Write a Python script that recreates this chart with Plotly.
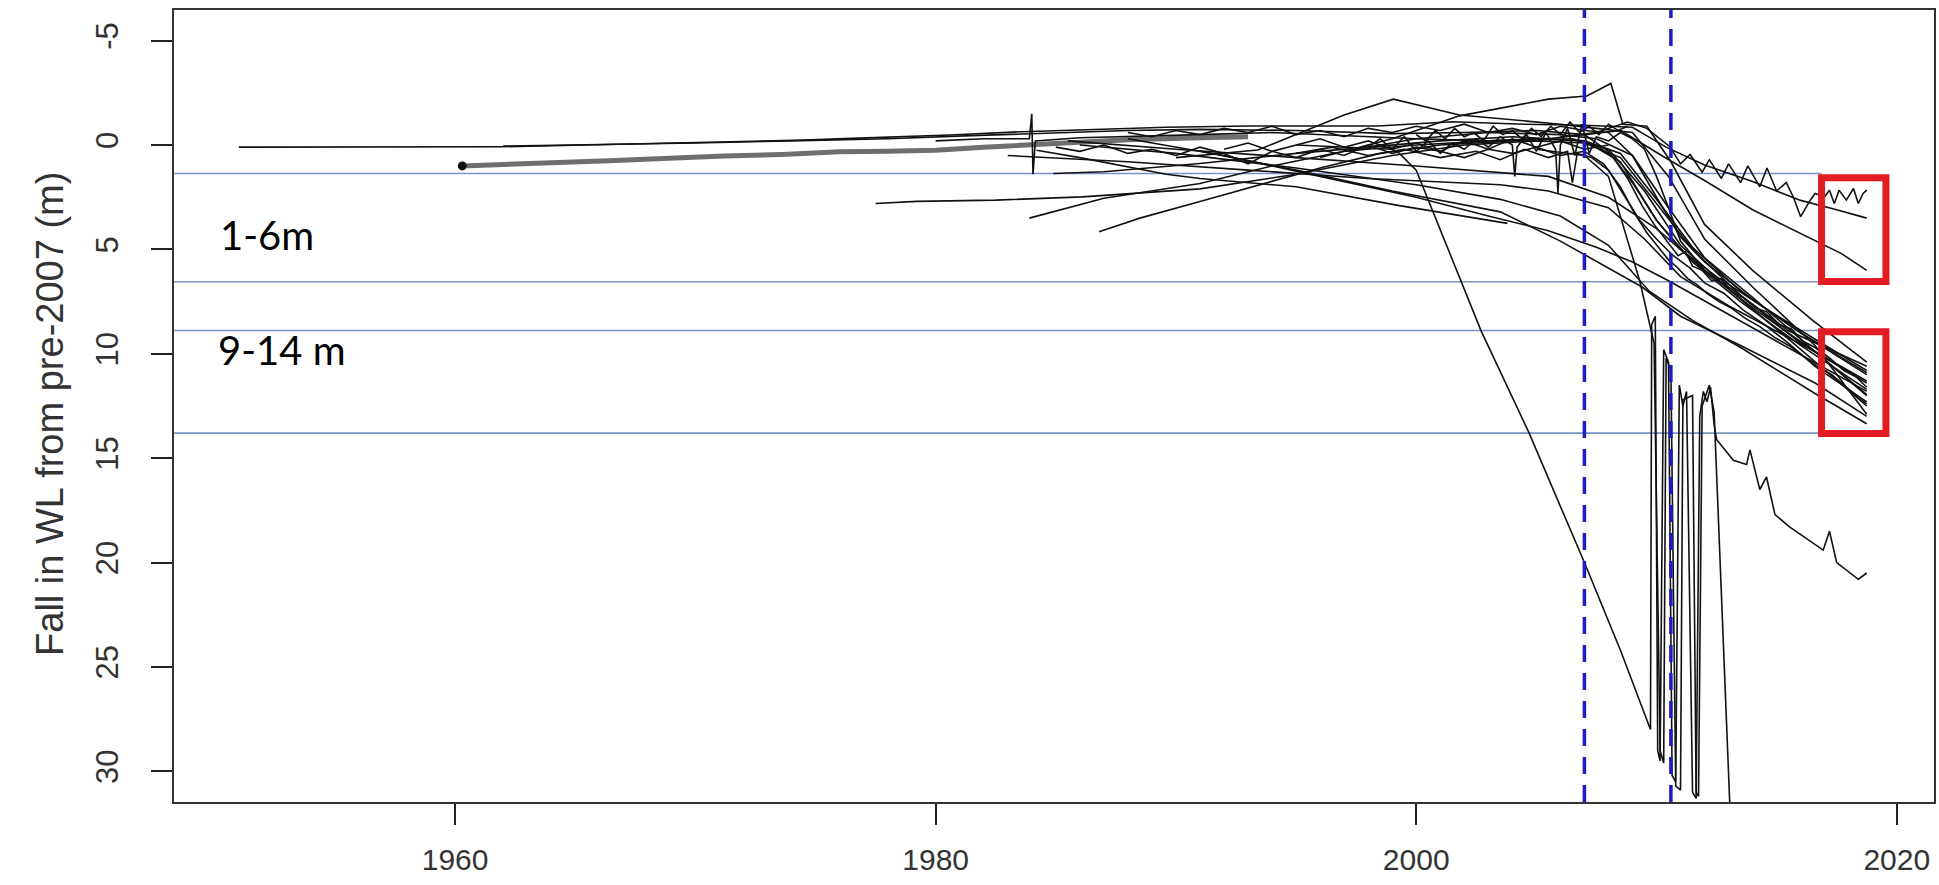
import plotly.graph_objects as go

# ---------------- data ----------------
x_ticks = [1960, 1980, 2000, 2020]
y_ticks = [-5, 0, 5, 10, 15, 20, 25, 30]
band_lines = [1.36, 6.55, 8.88, 13.8]          # thin blue reference lines
policy_years = [2007.0, 2010.6]                 # dashed blue verticals
box_upper = [1.56, 6.54]                        # red box 1 (1-6 m)
box_lower = [8.94, 13.82]                       # red box 2 (9-14 m)
box_years = [2016.87, 2019.55]
label_text = ["1-6m", "9-14 m"]
label_year = [1952.15, 1952.8]
label_value = [4.3, 9.8]

# grey well (thick line with a dot at start)
g_yrs = [1960.3, 1962, 1964, 1966.4, 1968.8, 1971.2, 1973.6, 1976, 1978, 1980, 1982, 1985, 1988, 1991, 1993]
g_val = [1.0, 0.95, 0.85, 0.75, 0.62, 0.52, 0.45, 0.32, 0.30, 0.25, 0.10, -0.1, -0.25, -0.35, -0.4]

s01_yrs = [1951.0, 1956.0, 1961.9, 1964.0, 1966.4, 1969.5, 1972.0, 1974.5, 1976.5, 1980.6, 1983.6, 1986.5, 1989.6, 1993.0, 1998.4, 2001.5, 2004.5, 2007.0, 2009.0, 2010.4, 2012.0, 2014.0, 2016.0, 2017.5, 2018.75]
s01_val = [0.10, 0.10, 0.08, 0.03, -0.03, -0.10, -0.16, -0.24, -0.32, -0.48, -0.64, -0.75, -0.85, -0.91, -0.91, -1.12, -1.0, -0.95, -0.85, 0.10, 0.95, 1.75, 2.65, 3.1, 3.5]

s03_yrs = [1962.0, 1966.0, 1970.0, 1974.0, 1978.0, 1981.5, 1985.0, 1988.0, 1991.0, 1995.0, 1999.0, 2002.0, 2005.0, 2007.0, 2008.0, 2009.0, 2010.0, 2011.0, 2012.5, 2014.5, 2016.6, 2018.75]
s03_val = [0.05, -0.02, -0.1, -0.2, -0.3, -0.45, -0.6, -0.7, -0.75, -0.70, -0.55, -0.6, -0.7, -0.5, 0.3, 1.8, 3.6, 5.0, 6.3, 7.8, 9.3, 10.8]

s04_yrs = [1977.5, 1979.2, 1982.5, 1986.1, 1991.0, 1995.0, 1999.0, 2002.0, 2005.0, 2007.0, 2008.5, 2010.0, 2011.5, 2013.5, 2016.0, 2018.75]
s04_val = [2.8, 2.7, 2.64, 2.48, 2.1, 1.4, 0.5, 0.0, -0.2, -0.1, 0.6, 2.8, 5.0, 7.2, 9.5, 11.3]

s05_yrs = [1983.9, 1987.0, 1991.0, 1994.0, 1997.0, 2000.0, 2003.0, 2006.0, 2007.5, 2009.0, 2010.5, 2012.0, 2014.0, 2016.5, 2018.75]
s05_val = [3.5, 2.55, 1.84, 1.0, 0.3, -0.3, -0.6, -0.5, -0.3, 0.5, 3.0, 5.4, 7.3, 9.8, 12.0]

s06_yrs = [1986.8, 1988.5, 1991.0, 1993.5, 1996.0, 1998.5, 2001.0, 2004.0, 2006.5, 2008.0, 2009.5, 2011.0, 2013.0, 2015.5, 2018.75]
s06_val = [4.15, 3.5, 2.7, 1.9, 1.1, 0.4, 0.0, -0.2, -0.3, 0.2, 2.2, 4.8, 6.9, 9.3, 12.5]

s07_yrs = [1984.2, 1986.0, 1989.6, 1991.0, 1995.0, 1999.3, 2003.8]
s07_val = [0.25, 0.6, 1.4, 1.6, 2.0, 2.9, 3.75]

s08_yrs = [1980.0, 1982.0, 1983.9, 1984.0, 1984.05, 1984.15, 1986.0, 1988.0, 1991.0, 1994.0, 1997.0, 2000.0, 2003.0, 2005.0, 2007.0, 2008.5, 2010.0, 2011.5, 2013.5, 2016.0, 2018.75]
s08_val = [-0.2, -0.3, -0.3, -1.5, 1.4, -0.2, -0.35, -0.4, -0.5, -0.6, -0.45, -0.3, -0.2, -0.3, -0.2, 0.8, 3.6, 5.6, 7.5, 9.6, 11.7]

s09_yrs = [1990.0, 1993.4, 1997.0, 1999.05, 2001.8, 2004.0, 2006.0, 2007.5, 2009.0, 2010.5, 2012.0, 2014.0, 2016.6, 2018.75]
s09_val = [0.6, 0.24, -1.44, -2.2, -1.44, -1.2, -1.0, -0.8, -0.6, 1.5, 4.5, 6.8, 9.6, 12.9]

s10_yrs = [1996.0, 1999.0, 2001.8, 2005.5, 2007.1, 2008.1, 2008.6, 2009.6, 2010.6, 2012.0, 2014.0, 2016.5, 2018.75]
s10_val = [0.6, -0.3, -1.4, -2.2, -2.35, -2.95, -1.0, -0.9, 0.8, 3.8, 6.0, 8.4, 10.4]

s11_yrs = [2006.0, 2007.5, 2008.8, 2009.6, 2010.56, 2011.0, 2011.4, 2011.9, 2012.2, 2012.7, 2013.0, 2013.5, 2013.8, 2014.3, 2014.6, 2015.0, 2015.4, 2015.7, 2016.0, 2016.4, 2016.6, 2017.0, 2017.2, 2017.4, 2017.6, 2017.9, 2018.2, 2018.4, 2018.6, 2018.75]
s11_val = [-0.4, -0.6, -1.1, -0.8, 0.08, 0.9, 0.45, 1.3, 0.7, 1.6, 0.9, 1.8, 1.0, 2.0, 1.1, 2.2, 1.8, 2.5, 3.43, 2.64, 2.32, 2.48, 2.16, 2.8, 2.16, 2.64, 2.08, 2.8, 2.32, 2.16]

s12_yrs = [1997.0, 2000.0, 2003.0, 2005.5, 2007.0, 2008.5, 2010.3, 2012.0, 2014.0, 2015.4, 2016.6, 2017.7, 2018.75]
s12_val = [0.3, 0.0, -0.2, -0.3, -0.5, -0.7, 0.56, 1.7, 3.1, 3.9, 4.55, 5.2, 6.0]

s13_yrs = [1995.0, 1999.0, 1999.3, 2000.0, 2002.7, 2004.7, 2007.0, 2008.5, 2009.75, 2009.8, 2009.95, 2010.05, 2010.15, 2010.3, 2010.5, 2010.65, 2010.8, 2010.95, 2011.1, 2011.25, 2011.5, 2011.65, 2011.8, 2011.95, 2012.1, 2012.25, 2012.4, 2012.5, 2013.2, 2013.75, 2013.89, 2014.3, 2014.58, 2014.93, 2015.55, 2016.94, 2017.2, 2017.5, 2018.4, 2018.75]
s13_val = [0.0, 0.2, 0.4, 1.2, 8.9, 13.8, 20.0, 24.2, 28.0, 8.6, 8.2, 29.0, 29.5, 9.8, 10.4, 30.2, 30.5, 11.5, 12.5, 11.8, 31.0, 31.3, 13.0, 11.8, 12.3, 11.6, 13.4, 14.1, 15.1, 15.3, 14.6, 16.5, 15.9, 17.7, 18.3, 19.4, 18.5, 20.0, 20.8, 20.5]

s14_yrs = [2005.0, 2007.0, 2008.0, 2009.3, 2009.9, 2010.15, 2010.3, 2010.4, 2010.6, 2010.8, 2011.0, 2011.1, 2011.5, 2011.65, 2011.75, 2011.9, 2012.2, 2012.4, 2013.1]
s14_val = [0.2, 0.5, 1.5, 6.5, 9.5, 29.0, 29.6, 10.2, 10.8, 30.7, 30.9, 12.2, 12.0, 31.0, 31.2, 12.5, 11.5, 12.8, 33.0]

s15_yrs = [1986.0, 1990.0, 1995.0, 2000.0, 2003.5, 2006.0, 2008.0, 2009.7, 2011.5, 2013.5, 2016.6, 2018.75]
s15_val = [0.0, 0.4, 1.1, 1.9, 2.6, 3.4, 4.8, 7.0, 8.4, 9.7, 11.9, 13.35]

s16_yrs = [1988.0, 1992.0, 1996.0, 2000.0, 2003.0, 2005.5, 2007.5, 2009.0, 2010.5, 2012.5, 2015.0, 2018.75]
s16_val = [-0.3, 0.5, 1.5, 2.5, 3.4, 4.1, 4.9, 5.6, 6.5, 7.8, 9.4, 11.8]

s17_yrs = [1985.5, 1990.0, 1995.0, 2000.0, 2005.5, 2008.0, 2010.0, 2012.0, 2014.0, 2016.6, 2018.75]
s17_val = [-0.2, 0.2, 0.6, 1.0, 1.5, 2.5, 4.0, 6.0, 7.8, 9.9, 11.4]

s18_yrs = [1983.0, 1988.0, 1993.0, 1998.0, 2003.5, 2005.5, 2008.0, 2009.5, 2011.0, 2013.0, 2016.6, 2018.75]
s18_val = [0.5, 0.8, 1.2, 1.6, 1.9, 2.2, 3.0, 4.5, 6.3, 7.7, 9.9, 11.95]

s19_yrs = [1991.0, 1995.0, 1999.0, 2003.5, 2006.0, 2009.4, 2011.0, 2013.5, 2016.6, 2018.75]
s19_val = [0.3, 1.2, 2.2, 3.2, 4.6, 6.8, 8.2, 9.6, 11.4, 13.0]

s20_yrs = [1998.0, 1998.5, 1999.0, 1999.5, 2000.0, 2000.5, 2001.0, 2001.5, 2002.0, 2002.5, 2003.0, 2003.5, 2004.0, 2004.1, 2004.2, 2004.6, 2005.0, 2005.4, 2005.8, 2005.9, 2006.0, 2006.3, 2006.6, 2006.9, 2007.2, 2007.5, 2008.0, 2008.5, 2009.0, 2009.5, 2010.0, 2010.5, 2011.0, 2012.0, 2013.5, 2015.5, 2018.75]
s20_val = [0.1, -0.3, 0.2, -0.4, 0.3, -0.2, 0.4, -0.1, 0.2, -0.3, 0.1, -0.4, 0.0, 1.5, 0.1, -0.5, 0.3, -0.6, 0.2, 2.3, 0.0, -0.8, 0.5, -1.0, 0.4, -0.4, -0.2, -0.6, -0.3, 0.2, 1.5, 3.0, 4.6, 6.0, 7.2, 8.9, 10.6]

s21_yrs = [1985.0, 1986.0, 1987.0, 1988.0, 1989.0, 1990.0, 1991.0, 1992.0, 1993.0, 1994.0, 1995.0, 1996.0, 1997.0, 1998.0, 1999.0, 2000.0, 2001.0, 2002.0, 2003.0, 2004.0, 2005.0, 2006.0, 2007.0]
s21_val = [0.1, 0.3, 0.0, 0.4, 0.2, 0.5, 0.1, 0.4, 0.9, 0.3, 0.6, 0.2, 0.5, 0.0, 0.4, 0.1, 0.3, 0.6, 0.2, 0.4, 0.1, 0.5, 0.3]

s22_yrs = [1984.9, 1987.0, 1991.0, 1995.0, 1998.0, 2001.0, 2004.0, 2007.0, 2008.5, 2010.0, 2011.5, 2013.5, 2016.0, 2018.75]
s22_val = [1.36, 1.28, 0.88, 0.4, 0.1, -0.2, -0.4, -0.2, 0.4, 2.6, 4.9, 7.0, 9.0, 10.9]

s23_yrs = [1988, 1989, 1990, 1991, 1992, 1993, 1994, 1995, 1996, 1997, 1998, 1999, 2000, 2001, 2002, 2003, 2004, 2005, 2006, 2007, 2008, 2009, 2010, 2011, 2012, 2014, 2016, 2018.75]
s23_val = [-0.6, -0.4, -0.7, -0.5, -0.8, -0.6, -0.9, -0.5, -0.7, -0.4, -0.8, -0.6, -0.9, -0.7, -1.0, -0.6, -0.8, -0.5, -0.9, -0.7, -0.6, 0.5, 2.5, 4.4, 5.6, 7.4, 9.0, 11.0]

s24_yrs = [1995.0, 1996.5, 1998.0, 1999.5, 2001.0, 2002.5, 2003.5, 2004.5, 2005.5, 2006.3, 2006.5, 2006.7, 2007.3, 2008.0, 2008.7, 2009.3, 2010.0, 2010.7, 2011.4, 2012.0, 2012.8, 2013.6, 2014.5, 2015.5, 2016.6, 2017.6, 2018.75]
s24_val = [0.4, 0.1, 0.5, 0.2, 0.6, 0.3, 0.7, 0.2, 0.6, 0.3, 1.8, 0.4, 0.6, 1.2, 2.5, 3.6, 4.5, 5.3, 5.9, 6.6, 7.1, 7.9, 8.6, 9.5, 10.6, 11.4, 12.3]

s25_yrs = [2007.5, 2008.2, 2008.8, 2009.4, 2009.9, 2010.3, 2010.6, 2010.9, 2011.2, 2011.5, 2011.9, 2012.3, 2012.7, 2013.1, 2013.6, 2014.1, 2014.6, 2015.1, 2015.6, 2016.1, 2016.6, 2017.2, 2017.8, 2018.3, 2018.75]
s25_val = [0.0, 0.6, 1.6, 2.9, 3.8, 4.4, 4.9, 5.3, 5.1, 5.8, 6.0, 6.5, 6.4, 7.0, 7.3, 7.8, 8.0, 8.6, 8.8, 9.4, 9.7, 10.2, 10.8, 11.1, 11.6]

s26_yrs = [2007.0, 2007.8, 2008.5, 2009.1, 2009.6, 2010.1, 2010.5, 2010.9, 2011.3, 2011.7, 2012.1, 2012.6, 2013.1, 2013.7, 2014.3, 2014.9, 2015.5, 2016.1, 2016.7, 2017.3, 2017.9, 2018.4, 2018.75]
s26_val = [0.3, 0.9, 2.0, 3.3, 4.2, 4.9, 5.5, 5.9, 6.4, 6.7, 7.1, 7.5, 7.8, 8.3, 8.7, 9.2, 9.6, 10.1, 10.6, 11.0, 11.6, 12.1, 12.4]

s27_yrs = [2000.0, 2000.4, 2000.8, 2001.2, 2001.6, 2002.0, 2002.4, 2002.8, 2003.2, 2003.6, 2004.0, 2004.4, 2004.8, 2005.2, 2005.6, 2006.0, 2006.4, 2006.8, 2007.2, 2007.6, 2008.0, 2008.4, 2008.8]
s27_val = [-0.5, -0.2, -0.7, -0.3, -0.8, -0.4, -0.6, -0.2, -0.9, -0.5, -0.7, -0.3, -0.8, -0.4, -0.9, -0.5, -1.1, -0.6, -0.9, -0.5, -1.0, -0.7, -0.9]

s28_yrs = [1992.0, 1993.0, 1994.0, 1995.0, 1996.0, 1997.0, 1998.0, 1999.0, 2000.0, 2001.0, 2002.0, 2003.0, 2004.0, 2005.0, 2006.0, 2007.0, 2008.0]
s28_val = [0.2, -0.1, 0.3, 0.0, -0.3, 0.1, -0.2, 0.2, -0.1, 0.3, -0.2, 0.2, -0.3, 0.1, -0.2, 0.2, 0.0]

black_series = [
    (s01_yrs, s01_val), (s03_yrs, s03_val), (s04_yrs, s04_val), (s05_yrs, s05_val),
    (s06_yrs, s06_val), (s07_yrs, s07_val), (s08_yrs, s08_val), (s09_yrs, s09_val),
    (s10_yrs, s10_val), (s11_yrs, s11_val), (s12_yrs, s12_val), (s13_yrs, s13_val),
    (s14_yrs, s14_val), (s15_yrs, s15_val), (s16_yrs, s16_val), (s17_yrs, s17_val),
    (s18_yrs, s18_val), (s19_yrs, s19_val), (s20_yrs, s20_val), (s21_yrs, s21_val),
    (s22_yrs, s22_val), (s23_yrs, s23_val), (s24_yrs, s24_val), (s25_yrs, s25_val),
    (s26_yrs, s26_val), (s27_yrs, s27_val), (s28_yrs, s28_val),
]

# ---------------- figure ----------------
X_RANGE = [1948.3, 2021.55]
Y_RANGE = [31.47, -6.47]
FONT = "Liberation Sans, Arial, sans-serif"

fig = go.Figure()

fig.add_trace(go.Scatter(x=g_yrs, y=g_val, mode="lines",
                         line=dict(color="#6e6e6e", width=5), showlegend=False, hoverinfo="skip"))
fig.add_trace(go.Scatter(x=g_yrs[:1], y=g_val[:1], mode="markers",
                         marker=dict(color="#111", size=9), showlegend=False, hoverinfo="skip"))
for yrs, val in black_series:
    fig.add_trace(go.Scatter(x=yrs, y=val, mode="lines",
                             line=dict(color="#111111", width=1.6), showlegend=False, hoverinfo="skip"))

shapes = []
for v in band_lines:
    shapes.append(dict(type="line", xref="x", yref="y", x0=X_RANGE[0] - 0.2, x1=box_years[0],
                       y0=v, y1=v, line=dict(color="#7a93c4", width=1.6), layer="below"))
for yr in policy_years:
    shapes.append(dict(type="line", xref="x", yref="paper", x0=yr, x1=yr, y0=0, y1=1,
                       line=dict(color="#1c1cc4", width=3.5, dash="17px,11px"), layer="above"))
for lo, hi in (box_upper, box_lower):
    shapes.append(dict(type="rect", xref="x", yref="y", x0=box_years[0], x1=box_years[1],
                       y0=lo, y1=hi, line=dict(color="#e31b23", width=7), layer="above"))

annotations = []
for t, xx, yy in zip(label_text, label_year, label_value):
    annotations.append(dict(text=t, x=xx, y=yy, xref="x", yref="y", showarrow=False,
                            font=dict(family="Lato, Open Sans, sans-serif", size=40, color="#000")))
annotations.append(dict(text="Fall in WL from pre-2007 (m)", xref="paper", yref="paper",
                        x=(50 - 174) / 1760, y=0.49, textangle=-90, showarrow=False,
                        xanchor="center", yanchor="middle",
                        font=dict(family=FONT, size=38, color="#333")))

fig.update_layout(
    width=1939, height=885,
    margin=dict(l=174, r=5, t=10, b=83, autoexpand=False),
    paper_bgcolor="white", plot_bgcolor="white",
    shapes=shapes, annotations=annotations, showlegend=False,
    xaxis=dict(range=X_RANGE, tickvals=x_ticks, ticktext=[str(v) for v in x_ticks],
               ticks="outside", ticklen=21, tickwidth=1.5, tickcolor="#222",
               showline=True, linecolor="#333", linewidth=2, mirror=True,
               showgrid=False, zeroline=False, automargin=False,
               tickfont=dict(family=FONT, size=30, color="#333"), ticklabelstandoff=9),
    yaxis=dict(range=Y_RANGE, tickvals=y_ticks, ticktext=[str(v) for v in y_ticks],
               ticks="outside", ticklen=21, tickwidth=1.5, tickcolor="#222",
               showline=True, linecolor="#333", linewidth=2, mirror=True,
               showgrid=False, zeroline=False, tickangle=-90, automargin=False,
               tickfont=dict(family=FONT, size=31, color="#333"), ticklabelstandoff=21),
)

# remove the browser's default 8px page margin so the figure sits at the window origin
fig.write_html("out.html",
               config={"displayModeBar": False},
               post_script="document.body.style.margin='0';document.body.style.overflow='hidden';")
